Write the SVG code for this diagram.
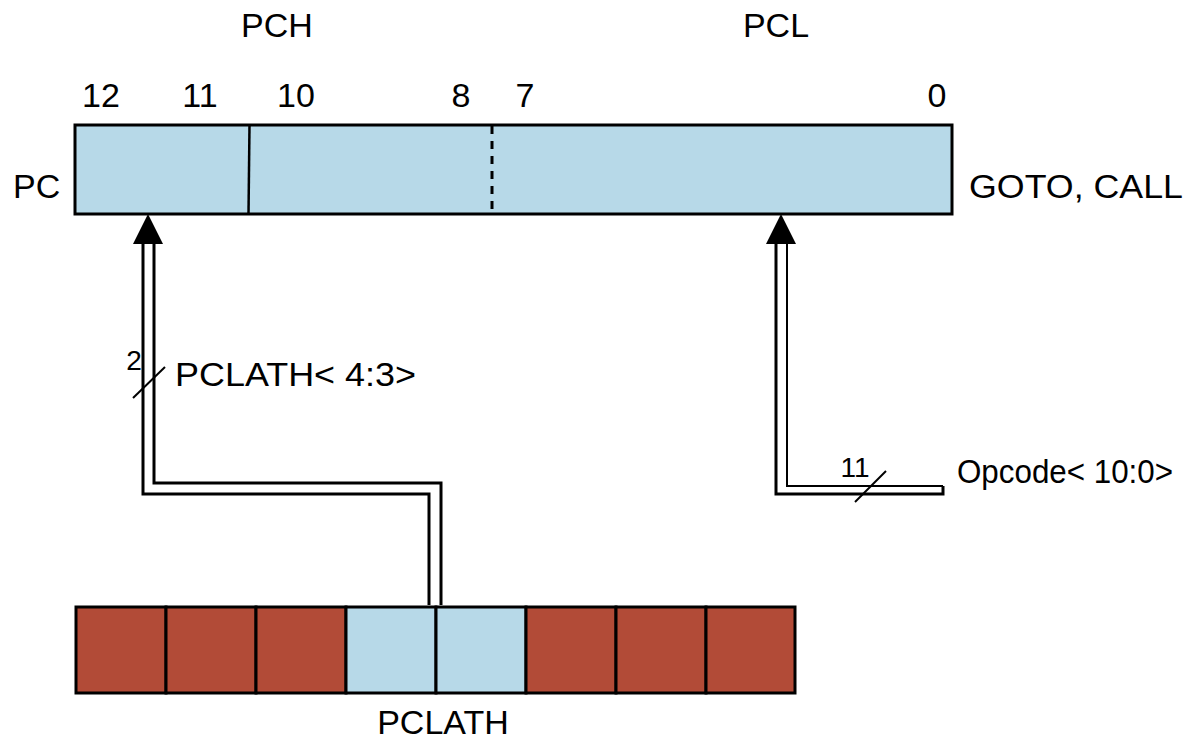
<svg xmlns="http://www.w3.org/2000/svg" width="1194" height="741" viewBox="0 0 1194 741">
<style>
text{font-family:"Liberation Sans",Arial,sans-serif;fill:#000}
.lbl{font-size:34px}
.sm{font-size:28px}
.reg{stroke:#000;stroke-width:3}
.blue{fill:#b7d9e8}
.red{fill:#b24b37}
.pipe{fill:none;stroke:#000;stroke-width:3}
</style>
<rect width="1194" height="741" fill="#fff"/>
<g id="labels">
<text class="lbl" x="277" y="37" text-anchor="middle">PCH</text>
<text class="lbl" x="776" y="37" text-anchor="middle">PCL</text>
<text class="lbl" x="101" y="107" text-anchor="middle">12</text>
<text class="lbl" x="200" y="107" text-anchor="middle">11</text>
<text class="lbl" x="296" y="107" text-anchor="middle">10</text>
<text class="lbl" x="461" y="107" text-anchor="middle">8</text>
<text class="lbl" x="525" y="107" text-anchor="middle">7</text>
<text class="lbl" x="937" y="107" text-anchor="middle">0</text>
<text class="lbl" x="13" y="198">PC</text>
<text class="lbl" x="969" y="198" textLength="214" lengthAdjust="spacingAndGlyphs">GOTO, CALL</text>
</g>
<g id="pc-register">
<rect class="reg blue" x="75" y="125" width="877" height="89"/>
<line x1="249.5" y1="125" x2="248.5" y2="214" stroke="#000" stroke-width="2.5"/>
<line x1="492" y1="126" x2="492" y2="213" stroke="#000" stroke-width="3" stroke-dasharray="8,7"/>
</g>
<g id="pclath-register">
<rect class="reg red" x="76" y="607" width="90" height="86"/>
<rect class="reg red" x="166" y="607" width="90" height="86"/>
<rect class="reg red" x="256" y="607" width="90" height="86"/>
<rect class="reg blue" x="346" y="607" width="90" height="86"/>
<rect class="reg blue" x="436" y="607" width="90" height="86"/>
<rect class="reg red" x="526" y="607" width="90" height="86"/>
<rect class="reg red" x="616" y="607" width="90" height="86"/>
<rect class="reg red" x="706" y="607" width="89" height="86"/>
<text class="lbl" x="443" y="734" text-anchor="middle">PCLATH</text>
</g>
<g id="connectors">
<polyline class="pipe" points="143,243 143,494 429,494 429,605"/>
<polyline class="pipe" points="154,243 154,483 441,483 441,605"/>
<polygon points="148,214 133,244 163,244" fill="#000"/>
<line x1="133" y1="398" x2="165" y2="367" stroke="#000" stroke-width="2"/>
<text class="sm" x="134" y="370" text-anchor="middle">2</text>
<text class="lbl" x="175" y="386" textLength="241" lengthAdjust="spacingAndGlyphs">PCLATH&lt; 4:3&gt;</text>
<polyline class="pipe" points="776,243 776,494 943,494 943,486"/>
<polyline fill="none" stroke="#000" stroke-width="2" points="943,486 787,486 787,243"/>
<polygon points="781,214 766,244 796,244" fill="#000"/>
<line x1="855" y1="502" x2="886" y2="471" stroke="#000" stroke-width="2"/>
<text class="sm" x="855" y="477" text-anchor="middle">11</text>
<text class="lbl" x="957" y="483" textLength="216" lengthAdjust="spacingAndGlyphs">Opcode&lt; 10:0&gt;</text>
</g>
</svg>
